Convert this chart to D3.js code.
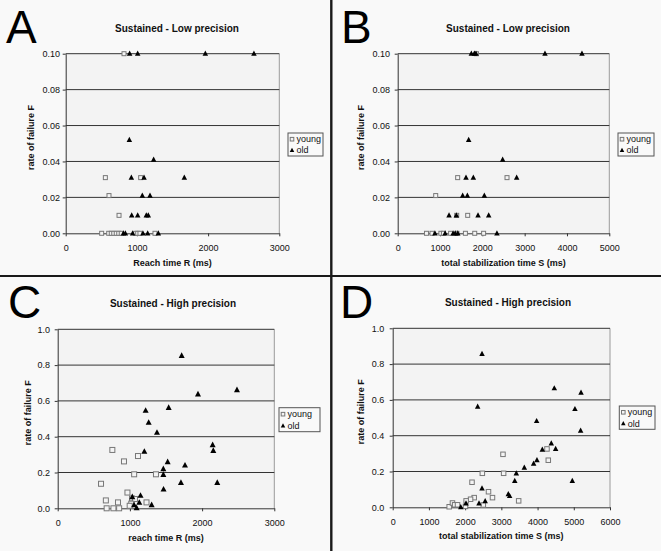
<!DOCTYPE html>
<html>
<head>
<meta charset="utf-8">
<script src="https://cdn.jsdelivr.net/npm/d3@7"></script>
<style>
html,body{margin:0;padding:0;background:#f9f9f9;}
svg{display:block;font-family:"Liberation Sans",Arial,sans-serif;}
</style>
</head>
<body>
<svg id="chart" width="661" height="551"></svg>
<script>
// ---------------- DATA ----------------
const panelLetters = ["A", "B", "C", "D"];
const panelTitles = ["Sustained - Low precision", "Sustained - Low precision",
                     "Sustained - High precision", "Sustained - High precision"];
const xTitles = ["Reach time R (ms)", "total stabilization time S (ms)",
                 "reach time R (ms)", "total stabilization time S (ms)"];
const yTitle = "rate of failure F";
const seriesNames = ["young", "old"];
const xTicksLow = [0, 1000, 2000, 3000];
const xTicksB = [0, 1000, 2000, 3000, 4000, 5000];
const xTicksD = [0, 1000, 2000, 3000, 4000, 5000, 6000];
const yTicksLow = [0, 0.02, 0.04, 0.06, 0.08, 0.10];
const yTicksHigh = [0, 0.2, 0.4, 0.6, 0.8, 1.0];

// Panel A: reach time R vs F (low precision)
const aYoung = [[819,0.10],[557,0.031],[1053,0.031],[608,0.021],[749,0.010],
  [505,0],[604,0],[640,0],[675,0],[710,0],[745,0],[780,0],[983,0],[1011,0],[1043,0],[1254,0]];
const aOld = [[898,0.10],[1011,0.10],[1961,0.10],[2644,0.10],[894,0.052],[1235,0.041],
  [922,0.031],[1100,0.031],[1666,0.031],[1076,0.021],[1184,0.021],
  [927,0.010],[1011,0.010],[1132,0.010],[1160,0.010],
  [810,0],[838,0],[940,0],[1085,0],[1151,0],[1301,0]];
// Panel B: total stabilization time S vs F (low precision)
const bYoung = [[1860,0.10],[1417,0.031],[2583,0.031],[898,0.021],[1394,0.010],[1654,0.010],
  [680,0],[810,0],[1020,0],[1080,0],[1250,0],[1400,0],[1600,0],[1820,0],[2030,0]];
const bOld = [[1740,0.10],[1811,0.10],[1850,0.10],[3480,0.10],[4354,0.10],[1677,0.052],[2480,0.041],
  [1614,0.031],[1787,0.031],[2811,0.031],[1535,0.021],[1646,0.021],[2047,0.021],
  [1213,0.010],[1386,0.010],[1898,0.010],[2150,0.010],
  [880,0],[1120,0],[1310,0],[1360,0],[1420,0],[2345,0]];
// Panel C: reach time R vs F (high precision)
const cYoung = [[757,0.326],[918,0.262],[1112,0.292],[1059,0.190],[1361,0.190],[600,0.137],
  [966,0.088],[667,0.044],[835,0.033],[1230,0.033],[1029,0.055],[1070,0.052],[1019,0.026],
  [997,0.014],[678,0],[772,0],[851,0]];
const cOld = [[1717,0.853],[1943,0.637],[2483,0.661],[1218,0.546],[1537,0.562],[1260,0.479],
  [1375,0.423],[1200,0.317],[2146,0.354],[2155,0.322],[1523,0.259],[1463,0.220],[1463,0.188],
  [1763,0.240],[1707,0.143],[2210,0.143],[1466,0.106],[1033,0.063],[1147,0.071],[1130,0.032],
  [1058,0.018],[1093,0.002],[1301,0.019]];
// Panel D: total stabilization time S vs F (high precision)
const dYoung = [[3045,0.296],[3063,0.190],[2475,0.190],[2190,0.140],[4260,0.326],[4296,0.263],
  [2645,0.087],[2755,0.054],[2250,0.054],[2150,0.045],[2028,0.036],[3478,0.036],[2502,0.013],
  [1560,0.003],[1650,0.024],[1710,0.014],[1790,0.014],[2010,0.005]];
const dOld = [[2466,0.857],[2346,0.562],[4462,0.665],[5200,0.641],[5032,0.549],[3974,0.482],
  [5189,0.428],[4379,0.357],[4131,0.322],[4499,0.326],[3983,0.263],[3891,0.244],[3634,0.222],
  [3413,0.190],[3370,0.147],[4959,0.147],[2466,0.106],[3192,0.073],[3229,0.063],[2553,0.034],
  [2383,0.022],[2024,0.022],[1880,0.001]];

// ---------------- LAYOUT ----------------
const panels = [
  {young:aYoung, old:aOld, xMax:3000, xTicks:xTicksLow, yMax:0.10, yTicks:yTicksLow, yFmt:".2f",
   L:65.7, R:279.3, T:53.7, B:233.3, letterX:6, letterY:43, titleX:177, titleY:32,
   yLabPad:2.7, yTitleX:34, xLabY:251.5, xTitleY:266,
   leg:{x:288,y:133,w:35,h:23}, sq:4, tri:5.5},
  {young:bYoung, old:bOld, xMax:5000, xTicks:xTicksB, yMax:0.10, yTicks:yTicksLow, yFmt:".2f",
   L:397.7, R:609.3, T:53.7, B:233.3, letterX:341, letterY:43, titleX:508, titleY:32,
   yLabPad:4.7, yTitleX:364, xLabY:251.5, xTitleY:266,
   leg:{x:618,y:133,w:36,h:23}, sq:4, tri:5.5},
  {young:cYoung, old:cOld, xMax:3000, xTicks:xTicksLow, yMax:1.0, yTicks:yTicksHigh, yFmt:".1f",
   L:57.7, R:274.3, T:329.3, B:508.3, letterX:8, letterY:318, titleX:173, titleY:307,
   yLabPad:4.7, yTitleX:31, xLabY:526.5, xTitleY:541,
   leg:{x:279,y:407.7,w:41,h:24}, sq:5, tri:6},
  {young:dYoung, old:dOld, xMax:6000, xTicks:xTicksD, yMax:1.0, yTicks:yTicksHigh, yFmt:".1f",
   L:392.7, R:610, T:328.3, B:507.3, letterX:340, letterY:318, titleX:508, titleY:306,
   yLabPad:5.4, yTitleX:364, xLabY:525, xTitleY:539,
   leg:{x:619.3,y:406,w:35.7,h:23.3}, sq:4.5, tri:5.5}
];

const svg = d3.select("#chart");
svg.append("rect").attr("width",661).attr("height",551).attr("fill","#f9f9f9");

function triPath(s){
  const h = s*0.95;
  return `M0,${-h*0.6}L${s/2},${h*0.4}L${-s/2},${h*0.4}Z`;
}

panels.forEach((p, i) => {
  const g = svg.append("g");
  const x = d3.scaleLinear().domain([0, p.xMax]).range([p.L, p.R]);
  const y = d3.scaleLinear().domain([0, p.yMax]).range([p.B, p.T]);

  // plot area
  g.append("rect").attr("x", p.L).attr("y", p.T).attr("width", p.R - p.L).attr("height", p.B - p.T)
    .attr("fill", "#f3f3f3");
  g.append("line").attr("x1", p.R).attr("x2", p.R).attr("y1", p.T).attr("y2", p.B)
    .attr("stroke", "#9a9a9a").attr("stroke-width", 1);
  // gridlines
  g.selectAll(".grid").data(p.yTicks.filter(v => v > 0)).join("line")
    .attr("x1", p.L).attr("x2", p.R).attr("y1", d => y(d)).attr("y2", d => y(d))
    .attr("stroke", "#333").attr("stroke-width", 1);

  // axes
  const xAxis = d3.axisBottom(x).tickValues(p.xTicks).tickFormat(d3.format("d"))
    .tickSizeInner(3).tickSizeOuter(0).tickPadding(p.xLabY - p.B - 3 - 6.4);
  const gx = g.append("g").attr("transform", `translate(0,${p.B})`).call(xAxis);
  const yAxis = d3.axisLeft(y).tickValues(p.yTicks).tickFormat(d3.format(p.yFmt))
    .tickSizeInner(3).tickSizeOuter(0).tickPadding(p.yLabPad);
  const gy = g.append("g").attr("transform", `translate(${p.L},0)`).call(yAxis);
  [gx, gy].forEach(a => {
    a.selectAll("path,line").attr("stroke", "#333");
    a.selectAll("text").attr("font-size", 9).attr("fill", "#111")
      .attr("font-family", "'Liberation Sans',Arial,sans-serif");
  });

  // titles
  g.append("text").attr("x", p.letterX).attr("y", p.letterY).text(panelLetters[i])
    .attr("font-size", 46).attr("fill", "#000");
  g.append("text").attr("x", p.titleX).attr("y", p.titleY).attr("text-anchor", "middle")
    .attr("font-size", 10).attr("font-weight", "bold").attr("fill", "#111").text(panelTitles[i]);
  g.append("text").attr("x", (p.L + p.R) / 2).attr("y", p.xTitleY).attr("text-anchor", "middle")
    .attr("font-size", 9).attr("font-weight", "bold").attr("fill", "#111").text(xTitles[i]);
  const yc = (p.T + p.B) / 2 - 6;
  g.append("text").attr("transform", `translate(${p.yTitleX},${yc}) rotate(-90)`)
    .attr("text-anchor", "middle").attr("font-size", 9).attr("font-weight", "bold")
    .attr("fill", "#111").text(yTitle);

  // points
  g.selectAll(".young").data(p.young).join("rect")
    .attr("x", d => x(d[0]) - p.sq / 2).attr("y", d => y(d[1]) - p.sq / 2)
    .attr("width", p.sq).attr("height", p.sq)
    .attr("fill", "#f4f4f4").attr("stroke", "#777").attr("stroke-width", 1);
  g.selectAll(".old").data(p.old).join("path")
    .attr("transform", d => `translate(${x(d[0])},${y(d[1])})`)
    .attr("d", triPath(p.tri)).attr("fill", "#000");

  // legend
  const lg = p.leg;
  g.append("rect").attr("x", lg.x).attr("y", lg.y).attr("width", lg.w).attr("height", lg.h)
    .attr("fill", "#f9f9f9").attr("stroke", "#555").attr("stroke-width", 1);
  const rowY = [lg.y + lg.h * 0.27, lg.y + lg.h * 0.75];
  const mx = lg.x + 4;
  g.append("rect").attr("x", mx - 1.8).attr("y", rowY[0] - 1.8).attr("width", 3.6).attr("height", 3.6)
    .attr("fill", "#f4f4f4").attr("stroke", "#777").attr("stroke-width", 1);
  g.append("path").attr("transform", `translate(${mx},${rowY[1]})`).attr("d", triPath(4.5)).attr("fill", "#000");
  seriesNames.forEach((n, k) => {
    g.append("text").attr("x", mx + 4.5).attr("y", rowY[k] + 3.2).attr("font-size", 9)
      .attr("fill", "#111").text(n);
  });
});

// panel dividers
svg.append("line").attr("x1", 331.3).attr("x2", 331.3).attr("y1", 0).attr("y2", 551)
  .attr("stroke", "#1a1a1a").attr("stroke-width", 2.4);
svg.append("line").attr("x1", 0).attr("x2", 661).attr("y1", 276).attr("y2", 276)
  .attr("stroke", "#1a1a1a").attr("stroke-width", 2.2);
</script>
</body>
</html>
